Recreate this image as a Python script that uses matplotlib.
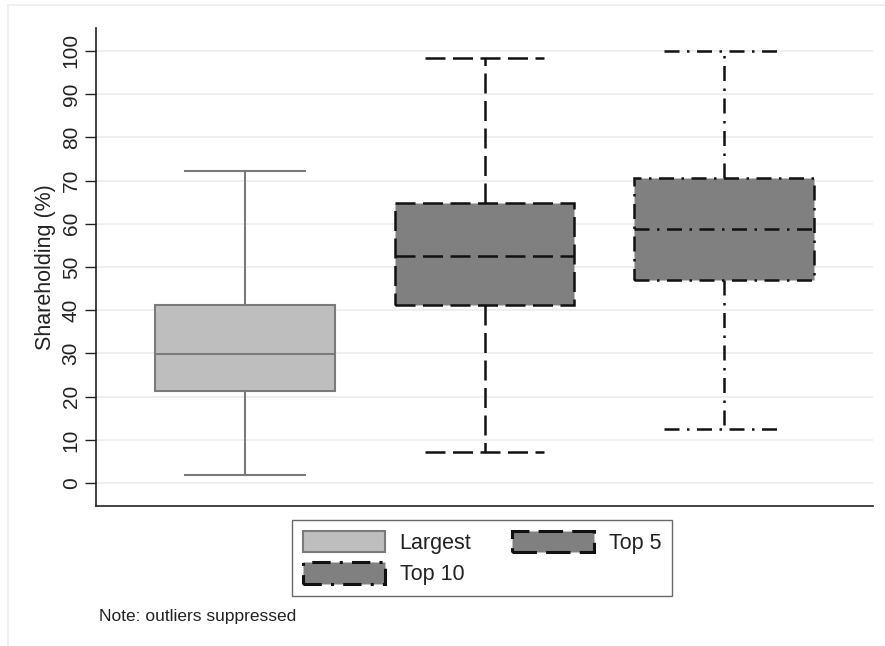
import matplotlib
matplotlib.use("Agg")
import matplotlib.pyplot as plt
from matplotlib.patches import Patch
from matplotlib.lines import Line2D

plt.rcParams["font.family"] = ["Liberation Sans", "DejaVu Sans"]

# Box-plot summaries of shareholding (%), outliers suppressed
groups = ["Largest", "Top 5", "Top 10"]
whisker_low = [1.8, 7.2, 12.5]
q1 = [21.2, 41.2, 47.0]
median = [29.8, 52.5, 58.9]
q3 = [41.3, 64.8, 70.6]
whisker_high = [72.2, 98.3, 100.0]
y_ticks = list(range(0, 101, 10))

face_colors = ["#bebebe", "#808080", "#808080"]
edge_colors = ["#7a7a7a", "#111111", "#111111"]
line_styles = ["-", (0, (8, 3)), (0, (6, 3, 1, 3))]
line_widths = [1.5, 1.8, 1.8]

fig = plt.figure(figsize=(8.85, 6.46), dpi=100)
ax = fig.add_axes([96 / 885, 1 - 506 / 646, (873 - 96) / 885, (506 - 28) / 646])

for i, name in enumerate(groups):
    stats = [{
        "whislo": whisker_low[i], "q1": q1[i], "med": median[i],
        "q3": q3[i], "whishi": whisker_high[i], "fliers": [], "label": name,
    }]
    ls, ec, lw = line_styles[i], edge_colors[i], line_widths[i]
    ax.bxp(
        stats, positions=[i + 1], widths=0.75, patch_artist=True,
        showfliers=False, manage_ticks=False,
        boxprops=dict(facecolor=face_colors[i], edgecolor=ec, linestyle=ls, linewidth=lw),
        medianprops=dict(color=ec, linestyle=ls, linewidth=lw),
        whiskerprops=dict(color=ec, linestyle=ls, linewidth=lw),
        capprops=dict(color=ec, linestyle=ls, linewidth=lw),
        capwidths=0.5,
    )

ax.set_xlim(0.379, 3.621)
ax.set_ylim(-5.3, 105.3)
ax.set_xticks([])
ax.set_yticks(y_ticks)
ax.set_yticklabels([str(t) for t in y_ticks], rotation=90, va="center", fontsize=15, color="#222222")
ax.tick_params(axis="y", length=8, width=1, color="#222222", pad=3)
ax.grid(axis="y", color="#ececec", linewidth=1.2)
ax.set_axisbelow(True)
for side in ["top", "right"]:
    ax.spines[side].set_visible(False)
for side in ["left", "bottom"]:
    ax.spines[side].set_color("#222222")
    ax.spines[side].set_linewidth(1.2)
ax.set_ylabel("Shareholding (%)", fontsize=15.5, color="#222222", labelpad=4)

# Legend, laid out row by row
handles = [
    Patch(facecolor=face_colors[0], edgecolor=edge_colors[0], linestyle=line_styles[0], linewidth=1.5),
    Patch(facecolor=face_colors[2], edgecolor=edge_colors[2], linestyle=line_styles[2], linewidth=2.2),
    Patch(facecolor=face_colors[1], edgecolor=edge_colors[1], linestyle=line_styles[1], linewidth=2.2),
]
labels = [groups[0], groups[2], groups[1]]
leg = fig.legend(
    handles, labels, ncol=2, loc="upper left",
    bbox_to_anchor=(292 / 885, 1 - 520 / 646), borderaxespad=0,
    fontsize=15.5, handlelength=3.8, handleheight=1.15,
    handletextpad=0.7, columnspacing=1.9, labelspacing=0.4,
    borderpad=0.5, fancybox=False, frameon=True,
)
leg.get_frame().set_edgecolor("#444444")
leg.get_frame().set_linewidth(1.0)
for t in leg.get_texts():
    t.set_color("#222222")

fig.text(99 / 885, 1 - 616 / 646, "Note: outliers suppressed", fontsize=12.5,
         color="#222222", va="center", ha="left")

# Faint outer border
fig.add_artist(Line2D([8 / 885, 1], [1 - 5 / 646, 1 - 5 / 646], transform=fig.transFigure,
                      color="#ededed", linewidth=1.2))
fig.add_artist(Line2D([8 / 885, 8 / 885], [0, 1 - 5 / 646], transform=fig.transFigure,
                      color="#ededed", linewidth=1.2))

fig.savefig("out.png", dpi=100, facecolor="white")
